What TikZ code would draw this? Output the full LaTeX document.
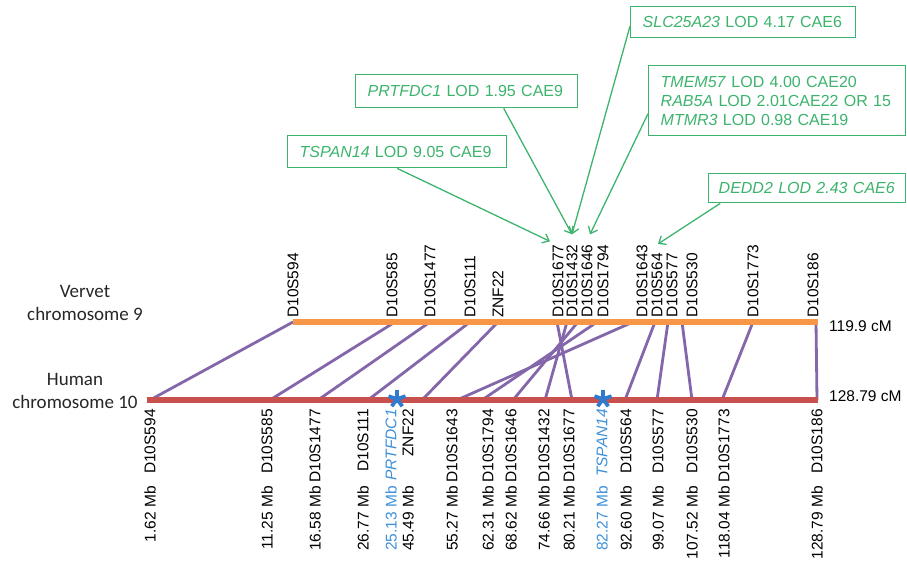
\documentclass[tikz,border=0pt]{standalone}
\usepackage{fontspec}
\setmainfont{Liberation Sans}
\newfontfamily\carlito{Carlito}
\usetikzlibrary{arrows.meta}
\definecolor{orng}{HTML}{F79646}
\definecolor{redc}{HTML}{C8504D}
\definecolor{purp}{HTML}{8466AA}
\definecolor{grn}{HTML}{3DB46E}
\definecolor{blu}{HTML}{2E7BCF}
\definecolor{blut}{HTML}{3F90D8}
\definecolor{dgray}{HTML}{262626}
\tikzset{
 lab/.style={rotate=90, inner sep=0pt, font=\fontsize{15.5}{18}\selectfont},
 vlab/.style={lab, anchor=west},
 hlab/.style={lab, anchor=east},
 link/.style={draw=purp, line width=2.8pt},
 chrom/.style={line width=6pt},
 genebox/.style={draw=grn, line width=1.4pt, fill=white, text=grn, font=\fontsize{16}{19}\selectfont, align=left, inner xsep=12pt, inner ysep=0pt, anchor=north west},
 garrow/.style={draw=grn, line width=1.3pt, -{Straight Barb[length=6pt,width=10pt]}},
 spoke/.style={draw=blu, line width=3.8pt},
 side/.style={font=\carlito\fontsize{19}{23}\selectfont, align=center, text=dgray},
 cmlab/.style={font=\fontsize{15.5}{18}\selectfont, anchor=west, inner sep=0pt}
}
\begin{document}
\begin{tikzpicture}[x=1pt,y=-1pt]
\useasboundingbox (0,0) rectangle (907,564);
% homology links
\foreach \n/\vx/\hx in {594/293/150, 585/395/270, 1477/430/318, 111/470/368, ZNF/498/422, 1643/633/457, 1794/597/482, 1646/578/513, 1432/567/545, 1677/557/572, 564/655/625, 577/668/657, 530/682/692, 1773/753/722, 186/816/817}{
  \coordinate (v\n) at (\vx,322);
  \coordinate (h\n) at (\hx,400);
  \draw[link] (h\n) -- (v\n);
}
% chromosomes
\coordinate (vs) at (293,322); \coordinate (ve) at (818,322);
\coordinate (hs) at (147,400); \coordinate (he) at (818,400);
\draw[chrom, orng] (vs) -- (ve);
\draw[chrom, redc] (hs) -- (he);
% vervet labels
\foreach \n/\x in {594/293, 585/392, 1477/430, 111/470, 1677/558, 1432/572, 1646/587, 1794/603, 1643/642, 564/657, 577/672, 530/692, 1773/753, 186/813}
  \node[vlab] (vl\n) at (\x,318) {D10S\n};
\node[vlab] (vlZNF) at (498,318) {ZNF22};
% human labels
\foreach \n/\x/\mb in {594/150/1.62, 585/267/11.25, 1477/315/16.58, 111/363/26.77, 1643/452/55.27, 1794/488/62.31, 1646/511/68.62, 1432/544/74.66, 1677/569/80.21, 564/626/92.60, 577/658/99.07, 530/692/107.52, 1773/724/118.04, 186/817/128.79}{
  \node[hlab] (hl\n) at (\x,409) {D10S\n};
  \node[hlab] (hm\n) at (\x,486) {\mb\ Mb};
}
\node[hlab] (hlZNF) at (408,409) {ZNF22};
\node[hlab] (hmZNF) at (408,486) {45.49 Mb};
\node[hlab, text=blut] (hlPRT) at (391,409) {\textit{PRTFDC1}};
\node[hlab, text=blut] (hmPRT) at (391,486) {25.13 Mb};
\node[hlab, text=blut] (hlTSP) at (602,409) {\textit{TSPAN14}};
\node[hlab, text=blut] (hmTSP) at (602,486) {82.27 Mb};
% gene location stars
\foreach \c in {397,603}
  \foreach \a in {90,18,162,234,306}
    \draw[spoke] (\c,399) -- ++(\a:9pt);
% side labels
\node[side] (vt) at (85,303) {Vervet\\chromosome 9};
\node[side] (ht) at (75,391) {Human\\chromosome 10};
\node[cmlab] (vcm) at (829,326) {119.9 cM};
\node[cmlab] (hcm) at (829,396) {128.79 cM};
% gene boxes
\node[genebox, text width=195pt, minimum height=32pt] (bts) at (287,135) {\textit{TSPAN14} LOD 9.05 CAE9};
\node[genebox, text width=198pt, minimum height=33pt] (bpr) at (355,74) {\textit{PRTFDC1} LOD 1.95 CAE9};
\node[genebox, text width=201pt, minimum height=31pt] (bsl) at (630,6) {\textit{SLC25A23} LOD 4.17 CAE6};
\node[genebox, text width=233pt, minimum height=70pt] (btm) at (648,65) {\textit{TMEM57} LOD 4.00 CAE20\\\textit{RAB5A} LOD 2.01CAE22 OR 15\\\textit{MTMR3} LOD 0.98 CAE19};
\node[genebox, inner xsep=10pt, text width=177pt, minimum height=29pt] (bde) at (708,173) {\textit{DEDD2 LOD 2.43 CAE6}};
% arrows
\draw[garrow] (bts.south) -- ([shift={(-8pt,3pt)}]vl1677.east);
\draw[garrow] ([xshift=37pt]bpr.south) -- ([shift={(0pt,10pt)}]vl1432.east);
\draw[garrow] ([yshift=-4pt]bsl.west) -- ([shift={(0pt,10pt)}]vl1432.east);
\draw[garrow] ([yshift=-13pt]btm.west) -- ([shift={(3pt,10pt)}]vl1646.east);
\draw[garrow] ([xshift=-87pt]bde.south) -- ([shift={(1pt,9pt)}]vl564.east);
\end{tikzpicture}
\end{document}
